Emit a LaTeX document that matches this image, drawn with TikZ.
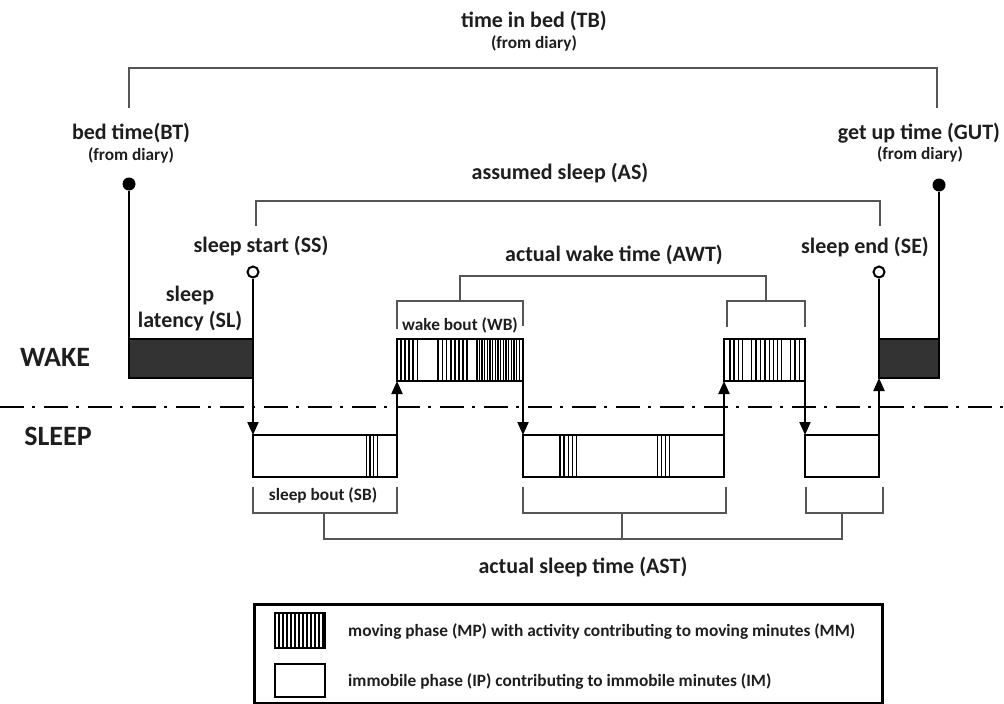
\documentclass[tikz,border=0pt]{standalone}
\usepackage{fontspec}
\setmainfont{Carlito}
\usetikzlibrary{arrows.meta}
\definecolor{txt}{HTML}{1E1E1E}
\definecolor{brkc}{HTML}{555555}
\definecolor{darkfill}{HTML}{333333}
\tikzset{
  lbl/.style={font=\fontsize{22}{24}\selectfont\bfseries, text=txt, inner sep=0pt},
  sublbl/.style={font=\fontsize{17.3}{19}\selectfont\bfseries, text=txt, inner sep=0pt},
  biglbl/.style={font=\fontsize{28}{30}\selectfont\bfseries, text=txt, inner sep=0pt},
  brk/.style={draw=brkc, line width=1.5pt},
  boxbase/.style={draw=black, line width=2.5pt, inner sep=0pt, outer sep=0pt, anchor=north west},
  darkbox/.style={boxbase, fill=darkfill},
  whitebox/.style={boxbase, fill=white},
  stripe/.style={draw=black, line width=1.5pt},
  stem/.style={draw=black, line width=2pt},
  arr/.style={stem, -{Triangle[length=13pt,width=11pt]}},
  opendot/.style={circle, draw=black, line width=2pt, fill=white, minimum size=11pt, inner sep=0pt},
  filldot/.style={circle, fill=black, minimum size=13pt, inner sep=0pt},
}
\begin{document}
\begin{tikzpicture}[x=1pt,y=-1pt]
\useasboundingbox (0,0) rectangle (1004,704);

% dash-dot separator
\draw[line width=2.5pt, dash pattern=on 24pt off 8pt on 3pt off 9pt] (0,407) -- (1004,407);

% labels WAKE / SLEEP
\node[biglbl] (wake) at (55,357) {WAKE};
\node[biglbl] (sleep) at (58,436) {SLEEP};

% top labels
\node[lbl] (tb) at (534,21) {time in bed (TB)};
\node[sublbl] (tbd) at (534,43) {(from diary)};
\draw[brk] (129,108) -- (129,68) -- (937,68) -- (937,108);

\node[lbl] (bt) at (131,133) {bed time(BT)};
\node[sublbl] (btd) at (131,155) {(from diary)};
\node[lbl] (gut) at (919,133) {get up time (GUT)};
\node[sublbl] (gutd) at (920,154) {(from diary)};

\node[lbl] (as) at (560,173) {assumed sleep (AS)};
\draw[brk] (256,226) -- (256,201) -- (880,201) -- (880,226);

\node[lbl] (sslbl) at (261,246) {sleep start (SS)};
\node[lbl] (selbl) at (865,247) {sleep end (SE)};

\node[lbl] (awt) at (614,255) {actual wake time (AWT)};
\draw[brk] (460,301) -- (460,276) -- (766,276) -- (766,301);
\draw[brk] (397,329) -- (397,301) -- (523,301) -- (523,326);
\draw[brk] (727,327) -- (727,301) -- (805,301) -- (805,327);
\node[sublbl] (wblbl) at (460,325) {wake bout (WB)};

\node[lbl, align=center] (sllbl) at (190,309) {sleep\\[2pt]latency (SL)};

% boxes
\node[darkbox, minimum width=124pt, minimum height=39pt] (dk1) at (129,339) {};
\node[whitebox, minimum width=144pt, minimum height=42pt] (sb1) at (253,435) {};
\node[whitebox, minimum width=126pt, minimum height=42pt] (wb1) at (397,339) {};
\node[whitebox, minimum width=201pt, minimum height=42pt] (sb2) at (523,435) {};
\node[whitebox, minimum width=81pt, minimum height=42pt] (wb2) at (724,339) {};
\node[whitebox, minimum width=74pt, minimum height=42pt] (sb3) at (805,435) {};
\node[darkbox, minimum width=60pt, minimum height=39pt] (dk2) at (879,339) {};

% stripes in wake bouts
\foreach \x in {401,405,409,413,417.5,438,442.5,446.5,451,455,459,463,467,477,479.5,482,484.7,487.3,490,492.7,495.3,498,500.7,503.3,506,508.7,511.3,514,516.7,519.3}
  \draw[stripe] (\x,339) -- (\x,381);
\foreach \x in {730,734,738.3,742.7,751.7,756,760.5,765,769.3,773.3,777.3,781.7,790.7,795,799.3}
  \draw[stripe] (\x,339) -- (\x,381);
% stripes in sleep bouts
\foreach \x in {366.5,370,373.5,377.5}
  \draw[stripe] (\x,435) -- (\x,477);
\foreach \x in {560,564,568.3,572.7,576.7,657.7,661.7,665.7,669.3}
  \draw[stripe] (\x,435) -- (\x,477);
% redraw box borders over stripes
\foreach \b in {sb1,wb1,sb2,wb2,sb3}
  \draw[black, line width=2.5pt] (\b.north west) rectangle (\b.south east);

% event markers
\node[filldot] (btdot) at (129,184) {};
\node[filldot] (gutdot) at (939,185) {};
\node[opendot] (ss) at (253,272) {};
\node[opendot] (se) at (879,272) {};
\draw[stem] (btdot) -- (dk1.north west);
\draw[stem] (gutdot) -- (dk2.north east);
\draw[stem] (se) -- (dk2.north west);

% transitions
\draw[arr] (ss) -- (sb1.north west);
\draw[arr] (sb1.south east) -- (wb1.south west);
\draw[arr] (wb1.south east) -- (sb2.north west);
\draw[arr] (sb2.south east) -- (wb2.south west);
\draw[arr] (wb2.south east) -- (sb3.north west);
\draw[arr] (sb3.south east) -- (dk2.south west);

% sleep bout brackets
\node[sublbl] (sblbl) at (323,495) {sleep bout (SB)};
\draw[brk] (253,487) -- (253,513) -- (397,513) -- (397,487);
\draw[brk] (523,487) -- (523,513) -- (726,513) -- (726,487);
\draw[brk] (806,487) -- (806,513) -- (883,513) -- (883,487);
\draw[brk] (324,513) -- (324,539) -- (842,539) -- (842,513);
\draw[brk] (622,513) -- (622,539);
\node[lbl] (ast) at (583,567) {actual sleep time (AST)};

% legend
\node[draw=black, line width=2.5pt, minimum width=628pt, minimum height=99pt, inner sep=0pt, anchor=north west] (legend) at (253,603) {};
\node[whitebox, minimum width=50pt, minimum height=35pt] (lgmp) at (275,613) {};
\foreach \x in {279,283,287,291,295,299,303,307,311,315,319,323}
  \draw[stripe] (\x,613) -- (\x,648);
\draw[black, line width=2.5pt] (lgmp.north west) rectangle (lgmp.south east);
\node[whitebox, minimum width=50pt, minimum height=33pt] (lgip) at (275,664) {};
\node[sublbl, anchor=west] (lgmptxt) at (348,632) {moving phase (MP) with activity contributing to moving minutes (MM)};
\node[sublbl, anchor=west] (lgiptxt) at (348,682) {immobile phase (IP) contributing to immobile minutes (IM)};
\end{tikzpicture}
\end{document}
